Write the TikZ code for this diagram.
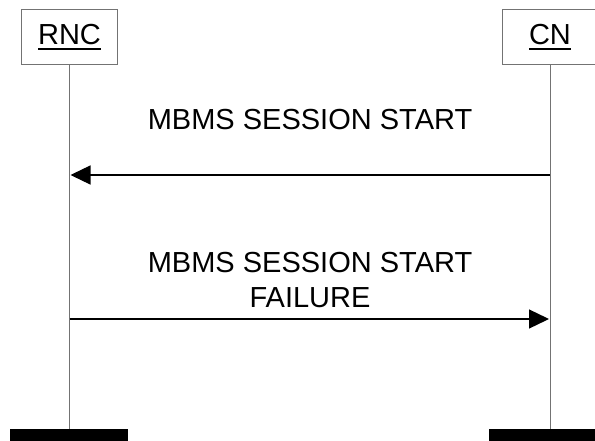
\documentclass[tikz,border=0pt]{standalone}
\usepackage{fontspec}
\setmainfont{Liberation Sans}
\usetikzlibrary{arrows.meta}
\newcommand\myul[1]{\setbox0\hbox{#1}\rlap{\rule[-5.5pt]{\wd0}{2pt}}\box0}
\begin{document}
\begin{tikzpicture}[x=1pt,y=-1pt,
  entity/.style={draw=black!55,line width=1pt,fill=white,minimum width=96pt,minimum height=55pt,inner sep=0pt,font=\fontsize{29}{35}\selectfont},
  life/.style={draw=black!55,line width=1pt},
  msg/.style={draw=black,line width=1.3pt,-{Triangle[length=20pt,width=19pt]}},
  lbl/.style={font=\fontsize{29}{35}\selectfont,inner sep=0pt,align=center},
  bar/.style={fill=black,draw=none}]
\clip (0,0) rectangle (595,441);
\useasboundingbox (0,0) rectangle (595,441);
\coordinate (rncbot) at (69.5,429);
\coordinate (cnbot) at (550,429);
\draw[life] (69.5,65) -- (rncbot);
\draw[life] (550,65) -- (cnbot);
\node[entity] (rnc) at (69.5,37.5) {\myul{RNC}};
\node[entity] (cn) at (550,37.5) {\myul{CN}};
\coordinate (a1s) at (550,175);
\coordinate (a1e) at (70.5,175);
\coordinate (a2s) at (69.5,319);
\coordinate (a2e) at (549,319);
\draw[msg] (a1s) -- (a1e);
\draw[msg] (a2s) -- (a2e);
\node[lbl,anchor=base] (l1) at (310,130) {MBMS SESSION START};
\node[lbl,anchor=north] (l2) at (310,252.5) {MBMS SESSION START\\FAILURE};
\fill[bar] (10,429) rectangle (128,445);
\fill[bar] (489,429) rectangle (600,445);
\end{tikzpicture}
\end{document}
